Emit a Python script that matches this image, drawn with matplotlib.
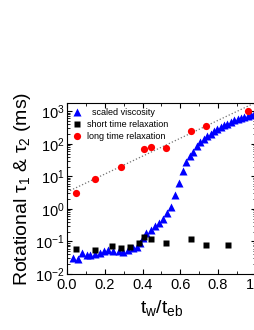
import numpy as np
import matplotlib
matplotlib.use("Agg")
import matplotlib.pyplot as plt
from matplotlib.ticker import LogLocator, MultipleLocator, NullFormatter

plt.rcParams['font.family'] = ['Liberation Sans', 'DejaVu Sans']
plt.rcParams['mathtext.fontset'] = 'custom'
plt.rcParams['mathtext.rm'] = 'Liberation Sans'
plt.rcParams['mathtext.it'] = 'Liberation Sans:italic'

# scaled viscosity (blue triangles)
visc_x = [0.032, 0.059, 0.080, 0.107, 0.123, 0.150, 0.176, 0.198, 0.219, 0.246,
          0.273, 0.294, 0.321, 0.348, 0.372, 0.388, 0.401, 0.417, 0.444, 0.465,
          0.487, 0.508, 0.529, 0.551, 0.570, 0.594, 0.615, 0.631, 0.650, 0.668,
          0.687, 0.706, 0.724, 0.743, 0.761, 0.779, 0.797, 0.814, 0.833, 0.850,
          0.868, 0.886, 0.904, 0.921, 0.940, 0.957, 0.975, 0.993]
visc_y = [0.0318, 0.0283, 0.0434, 0.0376, 0.0385, 0.0404, 0.0452, 0.0510, 0.0547, 0.0510,
          0.0499, 0.0485, 0.0547, 0.0618, 0.0687, 0.090, 0.128, 0.179, 0.226, 0.300,
          0.379, 0.492, 0.738, 1.18, 2.70, 6.18, 14.8, 26.6, 40.7, 57.9,
          82.6, 110, 140, 168, 203, 239, 283, 327, 366, 412,
          465, 521, 575, 618, 663, 728, 780, 838]

# short time relaxation (black squares)
short_x = [0.048, 0.146, 0.239, 0.287, 0.334, 0.381, 0.408, 0.444, 0.524, 0.658, 0.734, 0.854]
short_y = [0.059, 0.055, 0.071, 0.064, 0.069, 0.088, 0.135, 0.122, 0.092, 0.119, 0.080, 0.080]

# long time relaxation (red circles)
long_x = [0.048, 0.146, 0.287, 0.408, 0.444, 0.524, 0.658, 0.735, 0.957]
long_y = [3.1, 8.2, 19, 69, 77, 75, 256, 353, 1020]

fig = plt.figure(figsize=(2.55, 3.3), dpi=100)
ax = fig.add_axes([0.263, 0.170, 0.74, 0.518])

# exponential fit to the long time data (dotted line)
p = np.polyfit(long_x, np.log10(long_y), 1)
xf = np.linspace(0, 1, 50)
ax.plot(xf, 10 ** np.polyval(p, xf), ls=':', color='0.45', lw=0.9, zorder=1)

ax.plot(visc_x, visc_y, '^', color='#0000ff', ms=5.2, mec='none',
        label='  scaled viscosity', zorder=3)
ax.plot(short_x, short_y, 's', color='black', ms=4.3, mec='none',
        label='short time relaxation', zorder=4)
ax.plot(long_x, long_y, 'o', color='#ff0000', ms=5.2, mec='none',
        label='long time relaxation', zorder=5)

ax.set_yscale('log')
ax.set_xlim(0, 1.0)
ax.set_ylim(1e-2, 1.8e3)
ax.xaxis.set_minor_locator(MultipleLocator(0.1))
ax.set_xticks([0, 0.2, 0.4, 0.6, 0.8, 1.0])
ax.set_xticklabels(['0.0', '0.2', '0.4', '0.6', '0.8', '1.0'])
ax.yaxis.set_minor_locator(LogLocator(base=10, subs=np.arange(2, 10), numticks=20))
ax.yaxis.set_minor_formatter(NullFormatter())
ax.set_yticks([1e-2, 1e-1, 1e0, 1e1, 1e2, 1e3])
ax.set_yticklabels([r'$10^{-2}$', r'$10^{-1}$', r'$10^{0}$', r'$10^{1}$', r'$10^{2}$', r'$10^{3}$'])

ax.tick_params(which='both', direction='in', top=True, right=True, labelsize=10.5, pad=2)
ax.tick_params(which='major', length=3.5, width=0.8)
ax.tick_params(which='minor', length=2, width=0.6)
ax.tick_params(axis='x', pad=3)
for s in ax.spines.values():
    s.set_linewidth(0.8)

ax.set_ylabel(r'Rotational τ$_{\mathrm{1}}$ & τ$_{\mathrm{2}}$ (ms)', fontsize=14, labelpad=1)
ax.set_xlabel(r'$\mathregular{t_w/t_{eb}}$', fontsize=14, labelpad=4)

ax.legend(loc='upper left', frameon=False, fontsize=6.5, handlelength=1.0,
          handletextpad=0.6, borderaxespad=0.4, labelspacing=0.3,
          borderpad=0.2)

fig.savefig('out.png', dpi=100)
